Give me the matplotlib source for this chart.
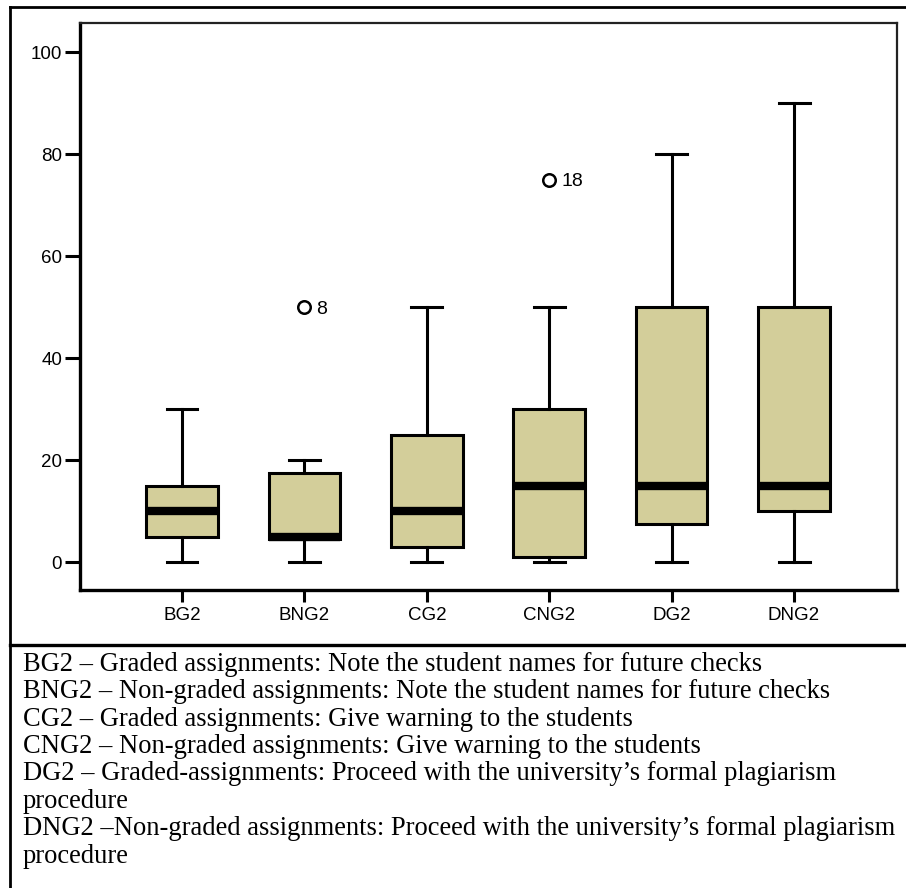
"""Box plot of plagiarism-response scores (BG2 ... DNG2) with key below."""

import matplotlib

matplotlib.use("Agg")
from matplotlib import pyplot as plt  # noqa: E402
from matplotlib.lines import Line2D  # noqa: E402

# values
categories = ["BG2", "BNG2", "CG2", "CNG2", "DG2", "DNG2"]
whisker_low = [0, 0, 0, 0, 0, 0]
quartile_1 = [5, 4.5, 3, 1, 7.5, 10]
medians = [10, 5, 10, 15, 15, 15]
quartile_3 = [15, 17.5, 25, 30, 50, 50]
whisker_high = [30, 20, 50, 50, 80, 90]
outliers = [[], [50], [], [75], [], []]
outlier_ids = [[], ["8"], [], ["18"], [], []]
y_ticks = [0, 20, 40, 60, 80, 100]

key_lines = [
    "BG2 \u2013 Graded assignments: Note the student names for future checks",
    "BNG2 \u2013 Non-graded assignments: Note the student names for future checks",
    "CG2 \u2013 Graded assignments: Give warning to the students",
    "CNG2 \u2013 Non-graded assignments: Give warning to the students",
    "DG2 \u2013 Graded-assignments: Proceed with the university\u2019s formal plagiarism",
    "procedure",
    "DNG2 \u2013Non-graded assignments: Proceed with the university\u2019s formal plagiarism",
    "procedure",
]

BOX_FILL = "#D3CE9A"
W, H = 906, 888

fig = plt.figure(figsize=(W / 100, H / 100), dpi=100)
ax = fig.add_axes([80 / W, 1 - 590 / H, (897 - 80) / W, (590 - 23) / H])

stats = []
for i, name in enumerate(categories):
    stats.append(
        {
            "label": name,
            "whislo": whisker_low[i],
            "q1": quartile_1[i],
            "med": medians[i],
            "q3": quartile_3[i],
            "whishi": whisker_high[i],
            "fliers": outliers[i],
        }
    )

positions = list(range(1, len(categories) + 1))
ax.bxp(
    stats,
    positions=positions,
    widths=0.585,
    patch_artist=True,
    showfliers=True,
    boxprops=dict(facecolor=BOX_FILL, edgecolor="black", linewidth=2.2),
    medianprops=dict(color="black", linewidth=6, solid_capstyle="butt"),
    whiskerprops=dict(color="black", linewidth=2.2),
    capprops=dict(color="black", linewidth=2.2),
    capwidths=0.253,
    flierprops=dict(marker="o", markersize=9, markerfacecolor="none",
                    markeredgecolor="black", markeredgewidth=1.8),
)

for pos, vals, ids in zip(positions, outliers, outlier_ids):
    for v, label in zip(vals, ids):
        ax.annotate(label, (pos, v), xytext=(8.5, 0), textcoords="offset points",
                    va="center_baseline", ha="left", fontsize=14,
                    family="Liberation Sans")

ax.set_xlim(0.1667, 6.841)
ax.set_ylim(-5.49, 105.69)
ax.set_yticks(y_ticks)
ax.set_xticks(positions)
ax.set_xticklabels(categories)

for side in ("left", "bottom"):
    ax.spines[side].set_linewidth(2.4)
    ax.spines[side].set_color("black")
for side in ("top", "right"):
    ax.spines[side].set_linewidth(1.6)
    ax.spines[side].set_color("#222222")

ax.tick_params(axis="y", direction="out", length=10.8, width=2.2, pad=2,
               labelsize=13.5)
ax.tick_params(axis="x", direction="out", length=8.6, width=2.2, pad=3.5,
               labelsize=13.5)
for lbl in ax.get_xticklabels() + ax.get_yticklabels():
    lbl.set_family("Liberation Sans")

# outer frame and separator between chart and key
frame = dict(transform=fig.transFigure, color="black")
fig.add_artist(Line2D([10 / W, 1], [1 - 7 / H, 1 - 7 / H], linewidth=2.0, **frame))
fig.add_artist(Line2D([10 / W, 10 / W], [0, 1 - 7 / H], linewidth=2.0, **frame))
fig.add_artist(Line2D([10 / W, 1], [1 - 645 / H, 1 - 645 / H], linewidth=2.4, **frame))

first_baseline = 670.7
step = 27.4
for i, line in enumerate(key_lines):
    y = 1 - (first_baseline + i * step) / H
    fig.text(23 / W, y, line, va="baseline", ha="left", fontsize=19.1,
             family="Liberation Serif")

fig.savefig("out.png", dpi=100)
